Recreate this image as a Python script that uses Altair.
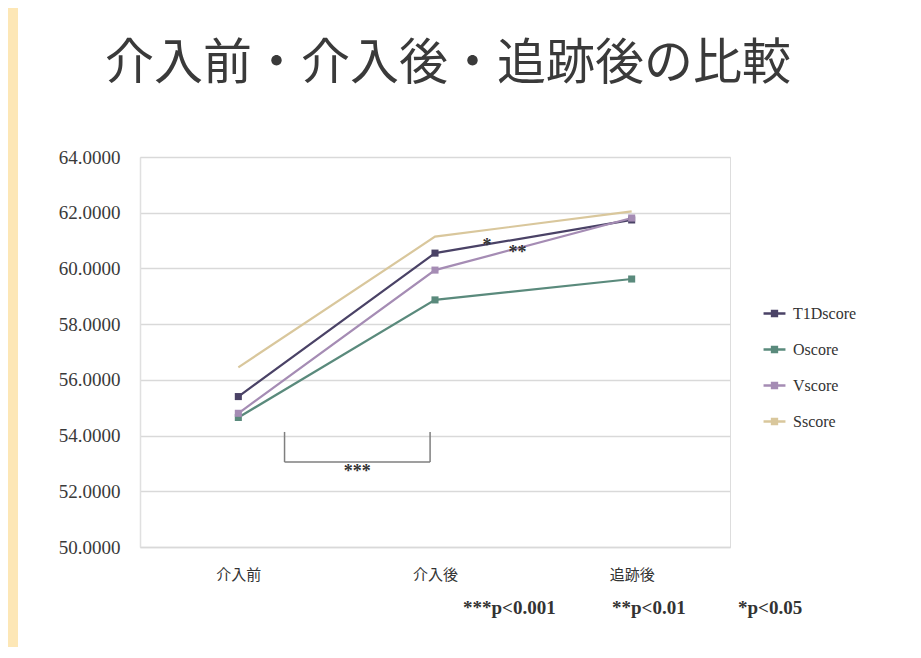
import altair as alt
import pandas as pd

# ---- data ----
phases = ["介入前", "介入後", "追跡後"]
series_names = ["T1Dscore", "Oscore", "Vscore", "Sscore"]
t1d_values = [55.40, 60.55, 61.74]
o_values = [54.65, 58.87, 59.62]
v_values = [54.80, 59.94, 61.81]
s_values = [56.45, 61.14, 62.05]
series_colors = ["#4a4266", "#5a8a7c", "#a58cb4", "#d9c79c"]
y_ticks = [50, 52, 54, 56, 58, 60, 62, 64]
sig_notes = ["***p<0.001", "**p<0.01", "*p<0.05"]
chart_title = "介入前・介入後・追跡後の比較"

rows = []
for name, vals in zip(series_names, [t1d_values, o_values, v_values, s_values]):
    for i, v in enumerate(vals):
        rows.append({"series": name, "idx": i, "phase": phases[i], "value": v})
df = pd.DataFrame(rows)

label_expr = "datum.value == 0 ? '介入前' : datum.value == 1 ? '介入後' : '追跡後'"

x_enc = alt.X("idx:Q", scale=alt.Scale(domain=[-0.5, 2.5], nice=False, zero=False),
              axis=alt.Axis(values=[0, 1, 2], labelExpr=label_expr, title=None, grid=False,
                            ticks=False, labelFont="Noto Sans CJK JP", labelFontSize=15,
                            labelColor="#333333", labelPadding=20, domainColor="#d9d9d9",
                            domainWidth=1.5))
y_enc = alt.Y("value:Q", scale=alt.Scale(domain=[50, 64], nice=False, zero=False),
              axis=alt.Axis(values=y_ticks, format=".4f", title=None, ticks=False,
                            labelFont="Liberation Serif", labelFontSize=19,
                            labelColor="#3a3a3a", labelPadding=20,
                            gridColor="#d9d9d9", gridWidth=1.5,
                            domainColor="#e0e0e0", domainWidth=1.5))

color_scale = alt.Scale(domain=series_names, range=series_colors)

legend_symbol = "M-1,0H1M-0.22,-0.22H0.22V0.22H-0.22Z"
leg = alt.Legend(title=None, orient="none", legendX=622, legendY=144,
                 labelFont="Liberation Serif", labelFontSize=16, labelColor="#333333",
                 rowPadding=15, symbolSize=480, symbolType=legend_symbol,
                 symbolStrokeWidth=2.5, labelOffset=6)

lines = alt.Chart(df).mark_line(strokeWidth=2.2).encode(
    x=x_enc, y=y_enc,
    color=alt.Color("series:N", scale=color_scale, legend=leg),
    order="idx:Q",
)

pts = alt.Chart(df).transform_filter(
    alt.datum.series != "Sscore"
).mark_point(shape="square", filled=True, size=50, opacity=1).encode(
    x="idx:Q", y="value:Q",
    color=alt.Color("series:N", scale=color_scale, legend=None),
)

# significance bracket between 介入前 and 介入後
bracket_v = pd.DataFrame({"x": [0.235, 0.975], "y": [54.13, 54.13], "y2": [53.05, 53.05]})
bracket_h = pd.DataFrame({"x": [0.235], "x2": [0.975], "y": [53.05]})
br_v = alt.Chart(bracket_v).mark_rule(color="#7f7f7f", strokeWidth=1.5).encode(
    x="x:Q", y="y:Q", y2="y2:Q")
br_h = alt.Chart(bracket_h).mark_rule(color="#7f7f7f", strokeWidth=1.5).encode(
    x="x:Q", x2="x2:Q", y="y:Q")

stars = pd.DataFrame({"x": [0.605, 1.265, 1.42], "y": [52.85, 60.95, 60.70],
                      "t": ["***", "*", "**"]})
star_text = alt.Chart(stars).mark_text(font="Liberation Serif", fontSize=18, fontWeight="bold",
                                       color="#333333", baseline="middle", dy=4).encode(
    x="x:Q", y="y:Q", text="t:N")

note_df = pd.DataFrame({"t": sig_notes, "px": [323, 472, 598]})
note = alt.Chart(note_df).mark_text(
    font="Liberation Serif", fontSize=19, fontWeight="bold", color="#333333",
    align="left", baseline="middle").encode(
    x=alt.X("px:Q", scale=None), y=alt.value(451), text="t:N")

title_text = alt.Chart(pd.DataFrame({"t": [chart_title]})).mark_text(
    font="Noto Sans CJK JP", fontSize=49, color="#3a3a3a", align="center",
    baseline="middle").encode(x=alt.value(308), y=alt.value(-93), text="t:N")

strip = alt.Chart(pd.DataFrame({"a": [0]})).mark_rect(color="#fde7b6").encode(
    x=alt.value(-132), x2=alt.value(-122), y=alt.value(-149), y2=alt.value(493))

chart = alt.layer(strip, lines, pts, br_v, br_h, star_text, note,
                  title_text).properties(
    width=590, height=390,
    autosize=alt.AutoSizeParams(type="none"),
    padding={"left": 132, "top": 149, "right": 170, "bottom": 100},
).configure_view(stroke=None).configure(background="white")

chart.save("out.html", embed_options={"renderer": "svg", "actions": False})
